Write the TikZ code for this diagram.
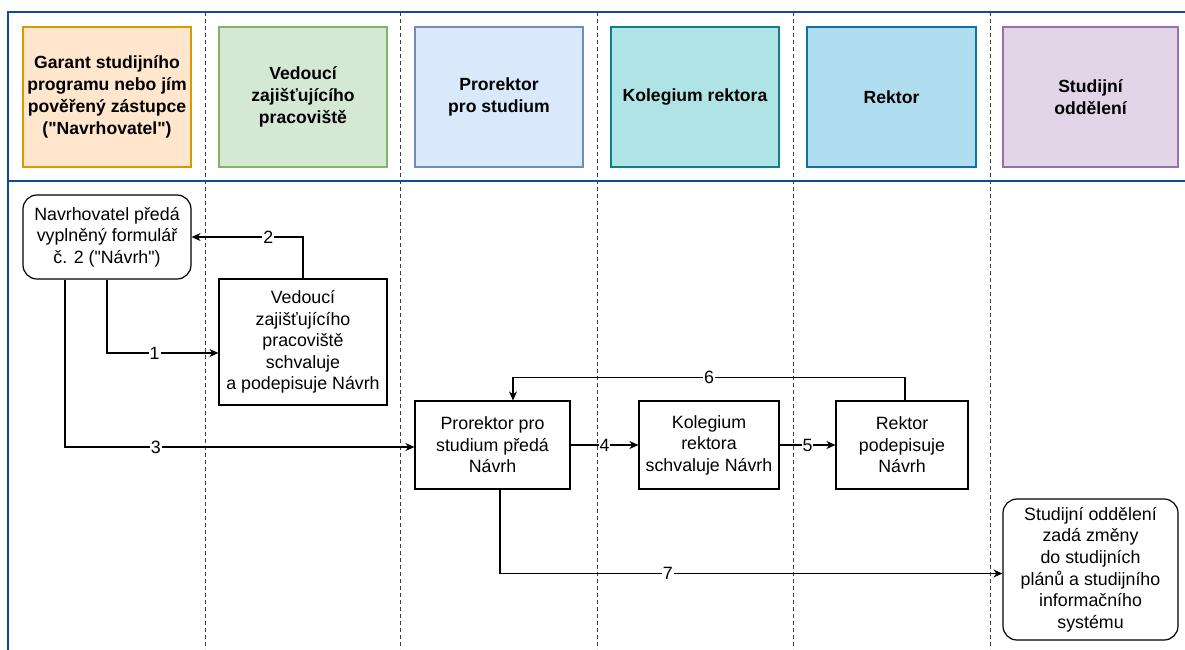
\documentclass[tikz,border=0pt]{standalone}
\usepackage{fontspec}
\setmainfont{Liberation Sans}[Ligatures=TeXOff]
\usetikzlibrary{arrows.meta,calc}
\definecolor{frameblue}{RGB}{16,76,150}
\definecolor{fA}{HTML}{FFE6CC}\definecolor{sA}{HTML}{D79B00}
\definecolor{fB}{HTML}{D5E8D4}\definecolor{sB}{HTML}{82B366}
\definecolor{fC}{HTML}{DAE8FC}\definecolor{sC}{HTML}{6C8EBF}
\definecolor{fD}{HTML}{B0E3E6}\definecolor{sD}{HTML}{0E8088}
\definecolor{fE}{HTML}{B1DDF0}\definecolor{sE}{HTML}{10739E}
\definecolor{fF}{HTML}{E1D5E7}\definecolor{sF}{HTML}{9673A6}
\definecolor{sepgray}{RGB}{60,60,60}
\tikzset{
  hdr/.style={draw, line width=1.2pt, minimum height=140pt, align=center, inner sep=2pt,
    font=\fontsize{17.6}{21.8}\selectfont\bfseries},
  proc/.style={draw, line width=1.2pt, align=center, inner sep=2pt, fill=white,
    font=\fontsize{17.8}{21.6}\selectfont},
  rproc/.style={proc, rounded corners=14pt},
  arr/.style={draw, line width=1.2pt, -{Stealth[length=9pt,width=8pt]}},
  lbl/.style={fill=white, inner sep=1pt, font=\fontsize{17.8}{20}\selectfont},
  lane/.style={draw=sepgray, line width=1pt, dash pattern=on 4pt off 3pt},
  frame/.style={draw=frameblue, line width=2.5pt}
}
\begin{document}
\begin{tikzpicture}[x=1pt,y=-1pt]
\useasboundingbox (0,0) rectangle (1185,649);
% lane separators
\foreach \xx/\nm in {205/l1,400/l2,597/l3,793/l4,990/l5}
  \draw[lane] (\xx,12) coordinate (\nm t) -- (\xx,649) coordinate (\nm b);
% frame
\draw[frame] (1186,12) coordinate (ftr) -- (8,12) coordinate (ftl) -- (8,650) coordinate (fbl);
\draw[frame] (8,181) coordinate (hsl) -- (1186,181) coordinate (hsr);
% headers
\node[hdr, fill=fA, draw=sA, minimum width=168pt] (hA) at (107,97) {Garant studijního\\programu nebo jím\\pověřený zástupce\\("Navrhovatel")};
\node[hdr, fill=fB, draw=sB, minimum width=168pt] (hB) at (303,97) {Vedoucí\\zajišťujícího\\pracoviště};
\node[hdr, fill=fC, draw=sC, minimum width=168pt] (hC) at (499,97) {Prorektor\\pro studium};
\node[hdr, fill=fD, draw=sD, minimum width=168pt] (hD) at (695,97) {Kolegium rektora};
\node[hdr, fill=fE, draw=sE, minimum width=169pt] (hE) at (891.5,97) {Rektor};
\node[hdr, fill=fF, draw=sF, minimum width=175pt] (hF) at (1090.5,97) {Studijní\\oddělení};
% process nodes
\node[rproc, minimum width=168pt, minimum height=84pt] (A) at (107,237) {Navrhovatel předá\\vyplněný formulář\\č. 2 ("Návrh")};
\node[proc, minimum width=168pt, minimum height=126pt] (B) at (303,342) {Vedoucí\\zajišťujícího\\pracoviště\\schvaluje\\a podepisuje Návrh};
\node[proc, minimum width=155pt, minimum height=88pt] (C) at (492.5,445) {Prorektor pro\\studium předá\\Návrh};
\node[proc, minimum width=140pt, minimum height=88pt] (D) at (709,445) {Kolegium\\rektora\\schvaluje Návrh};
\node[proc, minimum width=132pt, minimum height=88pt] (E) at (902,445) {Rektor\\podepisuje\\Návrh};
\node[rproc, minimum width=175pt, minimum height=141pt] (F) at (1090.5,569.5) {Studijní oddělení\\zadá změny\\do studijních\\plánů a studijního\\informačního\\systému};
% connectors
\draw[arr] (A.south) |- node[lbl, pos=0.714] {1} ([yshift=-11pt]B.west);
\draw[arr] (B.north) |- node[lbl, pos=0.656] {2} (A.east);
\draw[arr] ([xshift=-42pt]A.south) |- node[lbl, pos=0.63] {3} ([yshift=-2pt]C.west);
\draw[arr] (C.east) -- node[lbl] {4} (D.west);
\draw[arr] (D.east) -- node[lbl] {5} (E.west);
\draw[arr] ([xshift=3pt]E.north) -- ++(0,-23) coordinate (e6) -| node[lbl, pos=0.25] {6} ([xshift=20.5pt]C.north);
\draw[arr] ([xshift=7.5pt]C.south) |- node[lbl, pos=0.667] {7} ([yshift=-4pt]F.west);
\end{tikzpicture}
\end{document}
